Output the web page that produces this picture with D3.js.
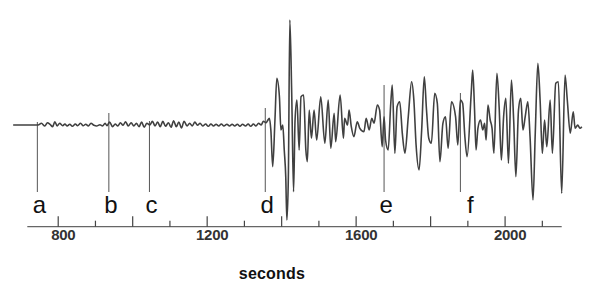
<!DOCTYPE html>
<html>
<head>
<meta charset="utf-8">
<script src="https://cdn.jsdelivr.net/npm/d3@7"></script>
<style>
  body { margin: 0; background: #fff; }
  svg { display: block; }
</style>
</head>
<body>
<div id="chart"></div>
<script>
// trace samples: time in seconds, relative ground motion (arbitrary units)
const traceTimes = [
  679, 742, 746, 755, 764, 771, 778, 785, 791, 797, 804, 812, 818, 824, 831, 838,
  846, 852, 860, 867, 874, 881, 888, 896, 903, 912, 919, 926, 931, 938, 946, 953,
  960, 967, 974, 981, 988, 996, 1003, 1010, 1017, 1024, 1031, 1038, 1046, 1053,
  1060, 1067, 1074, 1081, 1088, 1096, 1103, 1110, 1117, 1124, 1131, 1138, 1146,
  1153, 1160, 1167, 1174, 1181, 1188, 1196, 1203, 1210, 1217, 1224, 1231, 1238,
  1245, 1253, 1260, 1267, 1274, 1281, 1288, 1295, 1303, 1310, 1317, 1324, 1331,
  1338, 1345, 1351, 1358, 1362,
  1367, 1371, 1376, 1382, 1387, 1394, 1398, 1403, 1407, 1411, 1414, 1418, 1422,
  1427, 1432, 1436, 1441, 1447, 1452, 1459, 1465, 1469, 1474, 1480, 1487, 1494,
  1505, 1516, 1525, 1532, 1541, 1545, 1557, 1566, 1569, 1577, 1581, 1587, 1594,
  1603, 1610,
  1621, 1627, 1635, 1642, 1648, 1657, 1663, 1670, 1675, 1679, 1686, 1693, 1697,
  1704, 1710, 1717, 1724, 1731, 1740, 1749, 1755, 1761, 1769, 1776, 1783, 1789,
  1795, 1802, 1811, 1818, 1825, 1833, 1840, 1847, 1856, 1867, 1873, 1880, 1886,
  1892, 1898,
  1909, 1913, 1918, 1922, 1927, 1934, 1940, 1945, 1949, 1954, 1960, 1965, 1970,
  1978, 1984, 1990, 1996, 2002, 2009, 2017, 2023, 2029, 2036, 2042, 2048, 2054,
  2061, 2067, 2075, 2081, 2088, 2094, 2100, 2106, 2112, 2121, 2127, 2136, 2143,
  2152, 2161, 2167, 2175, 2183, 2188, 2195, 2201, 2206
];
const traceValues = [
  0, 0, 0, 1.7, -1, 2.3, 0.7, -1.7, 3.3, -1, 1.7, -0.7, 1, -1, 0.7, -1.3,
  1, -0.7, 1.7, -0.7, 0.7, -1, 1.7, -0.3, -1, 0.3, -1, 1.7, -0.7, 3, -1.7, 1,
  -1, 2.3, -0.3, 3.3, -1, 2.3, -1, 1.7, -1.7, 3, -2.3, 1.7, 0, 3.7,
  -1, 3, -1.7, 3.7, -1.3, 2.3, -2.3, 4.3, -1.7, 3, -3, 3.7, -1,
  1.7, -1, 3, -0.3, 1.7, -1, 1, -1.3, 1, -1, 0.7, -1, 1,
  -1, 0.7, -1, 0.7, -1, 0.7, -1.3, 0.7, -1, 1, -1.3, 1, -1,
  1.7, 0, 3.7, 2.3, 4.3,
  6.7, -5, -41.7, 5, 46.7, 28.3, -5, 0, -25, -51.7, -95, -51.7, 105,
  31.7, -66.7, 5, 25, -25, 28.3, 30, -25, -36.7, 15, -13.3, 15, -15,
  28.3, -18.3, 25, -23.3, 11.7, -16.7, 30, -13.3, 6.7, 0, 15, -1.7, -11.7,
  3.3, -3.3,
  -6.7, 6.7, -5, 6.7, 1.7, 20, 15, -21.7, 8.3, -15, -25, 21.7, 40,
  -28.3, 18.3, 23.3, -8.3, -28.3, 8.3, 43.3, 25, -20, -45, -5, 48.3, 15,
  -13.3, -18.3, 31.7, 21.7, -36.7, 1.7, 8.3, -23.3, 23.3, 8.3, -20, 25, 21.7,
  -11.7, -31.7,
  31.7, 55, 15, -25, -3.3, 5, -5, 1.7, -15, 20, 5, -3.3, -28.3,
  51.7, 18.3, -35, 8.3, 26.7, -38.3, 45, 5, -51.7, 15, 26.7, -5, 8.3,
  23.3, -11.7, -75, -8.3, 61.7, 25, -28.3, 5, -21.7, 25, -28.3, 41.7, 43.3,
  -68.3, 50, 25, -8.3, 13.3, -3.3, 0, -3.3, -1.7
];

// phase markers
const markerLabels = ["a", "b", "c", "d", "e", "f"];
const markerTimes  = [744, 936, 1045, 1356, 1675, 1880];
const markerTops   = [3, 12, 4, 17, 40, 32];
const markerBottom = -67;

const majorTicks = [800, 1000, 1200, 1400, 1600, 1800, 2000];
const minorTicks = [900, 1100, 1300, 1500, 1700, 1900, 2100];
const tickLabels = [800, 1200, 1600, 2000];
const axisTitle = "seconds";

const width = 609, height = 287;
const font = "Arial, 'Liberation Sans', sans-serif";

const svg = d3.select("#chart").append("svg")
  .attr("width", width)
  .attr("height", height);

svg.append("rect").attr("width", width).attr("height", height).attr("fill", "#fff");

const x = d3.scaleLinear().domain([717, 2152]).range([27.3, 561.7]);
const y = d3.scaleLinear().domain([-100, 100]).range([225, 25]);

const axisY = 226.7;

// marker lines first so the trace sits on top
svg.append("g")
  .selectAll("line")
  .data(markerTimes)
  .join("line")
    .attr("x1", d => x(d)).attr("x2", d => x(d))
    .attr("y1", (d, i) => y(markerTops[i]))
    .attr("y2", y(markerBottom))
    .attr("stroke", "#555")
    .attr("stroke-width", 1);

const trace = d3.zip(traceTimes, traceValues);

svg.append("path")
  .datum(trace)
  .attr("fill", "none")
  .attr("stroke", "#404040")
  .attr("stroke-width", 1.6)
  .attr("d", d3.line()
    .curve(d3.curveMonotoneX)
    .x(d => x(d[0]))
    .y(d => y(d[1])));

svg.append("g")
  .selectAll("text")
  .data(markerLabels)
  .join("text")
    .attr("x", (d, i) => x(markerTimes[i]) + (d === "f" ? 10 : 2))
    .attr("y", 213)
    .attr("text-anchor", "middle")
    .attr("font-family", font)
    .attr("font-size", 24)
    .attr("fill", "#111")
    .text(d => d);

// x axis, ticks pointing up
const axis = svg.append("g").attr("transform", `translate(0,${axisY})`);

axis.append("line")
  .attr("x1", x.range()[0]).attr("x2", x.range()[1])
  .attr("stroke", "#666").attr("stroke-width", 1.2);

axis.selectAll("line.major")
  .data(majorTicks)
  .join("line")
    .attr("class", "major")
    .attr("x1", d => x(d)).attr("x2", d => x(d))
    .attr("y1", 0).attr("y2", -10.5)
    .attr("stroke", "#444").attr("stroke-width", 1.2);

axis.selectAll("line.minor")
  .data(minorTicks)
  .join("line")
    .attr("class", "minor")
    .attr("x1", d => x(d)).attr("x2", d => x(d))
    .attr("y1", 0).attr("y2", -6)
    .attr("stroke", "#444").attr("stroke-width", 1.2);

axis.selectAll("text.tick")
  .data(tickLabels)
  .join("text")
    .attr("class", "tick")
    .attr("x", d => x(d) + 5)
    .attr("y", 13.5)
    .attr("text-anchor", "middle")
    .attr("font-family", font)
    .attr("font-size", 15)
    .attr("font-weight", "bold")
    .attr("letter-spacing", -0.3)
    .attr("fill", "#333")
    .text(d => d);

svg.append("text")
  .attr("x", 272)
  .attr("y", 279)
  .attr("text-anchor", "middle")
  .attr("font-family", font)
  .attr("font-size", 16)
  .attr("font-weight", "bold")
  .attr("letter-spacing", 0.2)
  .attr("fill", "#111")
  .text(axisTitle);
</script>
</body>
</html>
